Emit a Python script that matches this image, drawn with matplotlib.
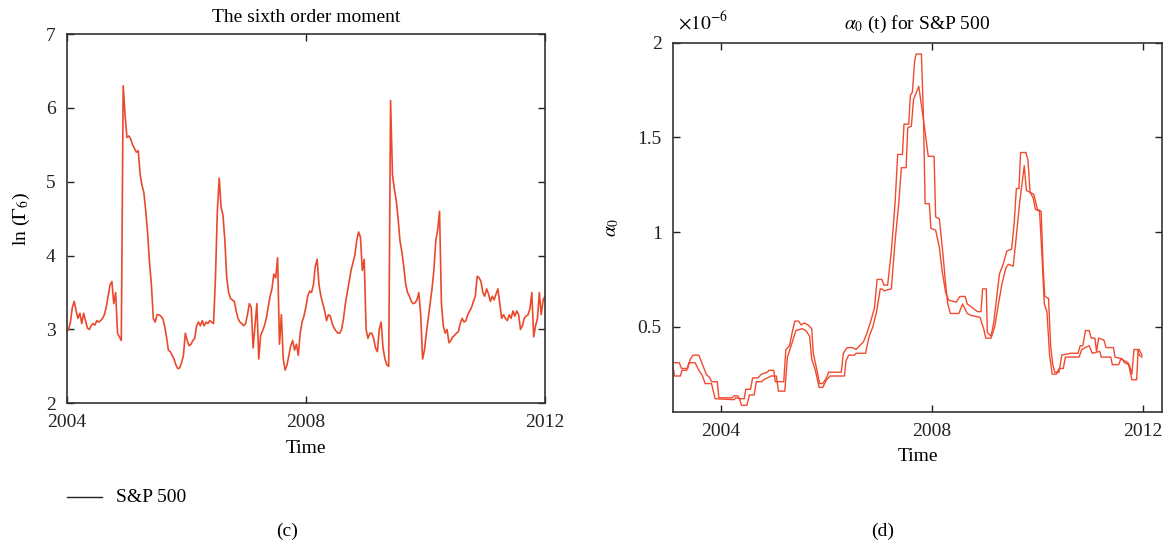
import numpy as np
import matplotlib
matplotlib.use('Agg')
import matplotlib.pyplot as plt

plt.rcParams['font.family'] = ['Liberation Serif', 'DejaVu Serif']
plt.rcParams['mathtext.fontset'] = 'stix'

# (c) ln(Gamma_6) for S&P 500, read at even steps from 2004 to 2012
ln_gamma6 = [
    2.97, 3.0, 3.1, 3.3, 3.38, 3.25, 3.15, 3.22, 3.08, 3.22,
    3.12, 3.02, 3.0, 3.05, 3.08, 3.06, 3.12, 3.1, 3.12, 3.15,
    3.2, 3.3, 3.45, 3.6, 3.65, 3.35, 3.5, 2.95, 2.9, 2.85,
    6.3, 5.9, 5.6, 5.62, 5.58, 5.5, 5.45, 5.4, 5.42, 5.1,
    4.95, 4.85, 4.6, 4.3, 3.9, 3.6, 3.15, 3.1, 3.2, 3.2,
    3.18, 3.15, 3.05, 2.9, 2.72, 2.7, 2.65, 2.6, 2.52, 2.47,
    2.48, 2.55, 2.65, 2.95, 2.85, 2.78, 2.8, 2.85, 2.88, 3.05,
    3.1, 3.05, 3.12, 3.05, 3.1, 3.08, 3.12, 3.1, 3.08, 3.7,
    4.6, 5.05, 4.65, 4.55, 4.2, 3.7, 3.5, 3.42, 3.4, 3.38,
    3.25, 3.15, 3.1, 3.08, 3.05, 3.08, 3.2, 3.35, 3.3, 2.75,
    3.05, 3.35, 2.6, 2.92, 2.98, 3.05, 3.15, 3.3, 3.45, 3.55,
    3.75, 3.7, 3.97, 2.8, 3.2, 2.6, 2.45, 2.52, 2.65, 2.78,
    2.85, 2.72, 2.8, 2.65, 2.95, 3.1, 3.18, 3.3, 3.45, 3.52,
    3.5, 3.6, 3.85, 3.95, 3.6, 3.45, 3.35, 3.25, 3.12, 3.2,
    3.18, 3.08, 3.02, 2.98, 2.95, 2.95, 3.0, 3.15, 3.35, 3.5,
    3.65, 3.8, 3.9, 4.0, 4.2, 4.32, 4.25, 3.8, 3.95, 3.0,
    2.88, 2.95, 2.95, 2.88, 2.75, 2.7, 3.0, 3.1, 2.75, 2.6,
    2.52, 2.5, 6.1, 5.1, 4.9, 4.75, 4.5, 4.2, 4.05, 3.85,
    3.62, 3.5, 3.45, 3.38, 3.35, 3.36, 3.4, 3.5, 3.2, 2.6,
    2.72, 2.95, 3.15, 3.35, 3.55, 3.8, 4.2, 4.35, 4.6, 3.35,
    3.05, 2.95, 3.0, 2.82, 2.85, 2.9, 2.92, 2.95, 2.97, 3.08,
    3.15, 3.1, 3.12, 3.2, 3.25, 3.3, 3.38, 3.45, 3.72, 3.7,
    3.65, 3.5, 3.45, 3.55, 3.48, 3.38, 3.45, 3.4, 3.48, 3.55,
    3.35, 3.15, 3.2, 3.15, 3.12, 3.2, 3.15, 3.25, 3.18, 3.25,
    3.2, 3.0, 3.05, 3.15, 3.18, 3.2, 3.28, 3.5, 2.9, 3.05,
    3.15, 3.5, 3.2, 3.4, 3.45,
]
time_c = np.linspace(2004, 2012, len(ln_gamma6))

# (d) alpha_0(t) in units of 1e-6, two curves
time_a = [
    2003.09, 2003.21, 2003.25, 2003.37, 2003.42, 2003.47, 2003.58, 2003.65, 2003.72, 2003.79,
    2003.82, 2003.93, 2003.96, 2004.21, 2004.25, 2004.32, 2004.35, 2004.44, 2004.47, 2004.56,
    2004.60, 2004.70, 2004.77, 2004.88, 2004.91, 2005.00, 2005.03, 2005.19, 2005.23, 2005.30,
    2005.35, 2005.40, 2005.47, 2005.52, 2005.58, 2005.65, 2005.72, 2005.75, 2005.82, 2005.87,
    2005.93, 2006.00, 2006.04, 2006.28, 2006.32, 2006.39, 2006.49, 2006.56, 2006.63, 2006.70,
    2006.76, 2006.84, 2006.91, 2006.96, 2007.05, 2007.09, 2007.16, 2007.23, 2007.30, 2007.35,
    2007.44, 2007.47, 2007.56, 2007.59, 2007.63, 2007.67, 2007.70, 2007.80, 2007.84, 2007.87,
    2007.95, 2007.98, 2008.07, 2008.14, 2008.19, 2008.26, 2008.32, 2008.46, 2008.53, 2008.63,
    2008.67, 2008.77, 2008.86, 2008.93, 2008.96, 2009.03, 2009.05, 2009.12, 2009.17, 2009.23,
    2009.28, 2009.35, 2009.42, 2009.51, 2009.56, 2009.60, 2009.65, 2009.68, 2009.78, 2009.82,
    2009.86, 2009.93, 2010.00, 2010.07, 2010.11, 2010.14, 2010.21, 2010.25, 2010.29, 2010.33,
    2010.41, 2010.46, 2010.63, 2010.77, 2010.81, 2010.86, 2010.91, 2010.98, 2011.02, 2011.09,
    2011.12, 2011.16, 2011.26, 2011.30, 2011.44, 2011.47, 2011.61, 2011.65, 2011.74, 2011.79,
    2011.83, 2011.90, 2011.93, 2011.98,
]
alpha_a = [
    0.31, 0.31, 0.28, 0.28, 0.33, 0.35, 0.35, 0.30, 0.25, 0.23,
    0.21, 0.21, 0.125, 0.125, 0.135, 0.135, 0.12, 0.12, 0.17, 0.17,
    0.23, 0.23, 0.25, 0.26, 0.27, 0.27, 0.21, 0.21, 0.38, 0.40,
    0.47, 0.53, 0.53, 0.51, 0.52, 0.51, 0.49, 0.36, 0.27, 0.20,
    0.20, 0.23, 0.26, 0.26, 0.36, 0.39, 0.39, 0.38, 0.40, 0.42,
    0.46, 0.53, 0.60, 0.75, 0.75, 0.72, 0.72, 0.90, 1.15, 1.41,
    1.41, 1.57, 1.57, 1.72, 1.74, 1.90, 1.94, 1.94, 1.60, 1.15,
    1.15, 1.02, 1.01, 0.92, 0.80, 0.68, 0.64, 0.63, 0.66, 0.66,
    0.62, 0.60, 0.58, 0.58, 0.70, 0.70, 0.47, 0.45, 0.52, 0.66,
    0.78, 0.83, 0.90, 0.91, 1.05, 1.23, 1.23, 1.42, 1.42, 1.38,
    1.21, 1.20, 1.12, 1.11, 0.80, 0.66, 0.65, 0.40, 0.30, 0.26,
    0.26, 0.35, 0.36, 0.36, 0.40, 0.40, 0.48, 0.48, 0.44, 0.44,
    0.37, 0.44, 0.43, 0.39, 0.39, 0.34, 0.33, 0.31, 0.30, 0.25,
    0.38, 0.38, 0.35, 0.34,
]
time_b = [
    2003.09, 2003.12, 2003.23, 2003.26, 2003.35, 2003.39, 2003.51, 2003.58, 2003.65, 2003.70,
    2003.82, 2003.89, 2004.25, 2004.28, 2004.35, 2004.39, 2004.49, 2004.54, 2004.63, 2004.67,
    2004.77, 2004.81, 2004.95, 2005.05, 2005.09, 2005.21, 2005.26, 2005.33, 2005.42, 2005.54,
    2005.61, 2005.68, 2005.72, 2005.79, 2005.86, 2005.93, 2006.00, 2006.07, 2006.34, 2006.37,
    2006.42, 2006.53, 2006.56, 2006.74, 2006.81, 2006.88, 2006.95, 2007.02, 2007.05, 2007.09,
    2007.23, 2007.30, 2007.37, 2007.42, 2007.51, 2007.54, 2007.61, 2007.65, 2007.75, 2007.81,
    2007.86, 2007.93, 2008.04, 2008.07, 2008.14, 2008.21, 2008.25, 2008.30, 2008.35, 2008.51,
    2008.58, 2008.67, 2008.74, 2008.91, 2008.98, 2009.02, 2009.12, 2009.19, 2009.26, 2009.33,
    2009.40, 2009.45, 2009.54, 2009.59, 2009.66, 2009.75, 2009.79, 2009.86, 2009.92, 2009.96,
    2010.04, 2010.09, 2010.13, 2010.18, 2010.23, 2010.28, 2010.36, 2010.41, 2010.49, 2010.53,
    2010.79, 2010.84, 2010.98, 2011.04, 2011.18, 2011.21, 2011.39, 2011.42, 2011.54, 2011.58,
    2011.72, 2011.79, 2011.88, 2011.91, 2011.93, 2011.98,
]
alpha_b = [
    0.29, 0.24, 0.24, 0.27, 0.27, 0.31, 0.31, 0.27, 0.24, 0.20,
    0.20, 0.12, 0.115, 0.125, 0.12, 0.085, 0.085, 0.14, 0.14, 0.21,
    0.21, 0.22, 0.24, 0.24, 0.16, 0.16, 0.34, 0.40, 0.48, 0.49,
    0.48, 0.45, 0.33, 0.27, 0.18, 0.18, 0.22, 0.24, 0.24, 0.32,
    0.35, 0.35, 0.36, 0.36, 0.45, 0.50, 0.58, 0.70, 0.70, 0.69,
    0.70, 0.95, 1.15, 1.34, 1.34, 1.55, 1.56, 1.70, 1.77, 1.65,
    1.55, 1.40, 1.40, 1.08, 1.07, 0.88, 0.75, 0.62, 0.57, 0.57,
    0.62, 0.57, 0.56, 0.55, 0.49, 0.44, 0.44, 0.50, 0.62, 0.73,
    0.81, 0.83, 0.82, 0.95, 1.15, 1.35, 1.22, 1.21, 1.18, 1.12,
    1.11, 0.85, 0.62, 0.58, 0.35, 0.25, 0.25, 0.28, 0.28, 0.34,
    0.34, 0.38, 0.40, 0.36, 0.37, 0.34, 0.34, 0.30, 0.30, 0.33,
    0.31, 0.22, 0.22, 0.38, 0.38, 0.35,
]

year_ticks = [2004, 2008, 2012]
line_color = '#ea4a2c'
spine_color = '#333333'

fig = plt.figure(figsize=(11.7, 5.48), dpi=100)

# ---- panel (c)
ax1 = fig.add_axes([0.0570, 0.2640, 0.4088, 0.6739])
ax1.plot(time_c, ln_gamma6, color=line_color, lw=1.2)
ax1.set_xlim(2004, 2012)
ax1.set_ylim(2, 7)
ax1.set_xticks(year_ticks)
ax1.set_yticks([2, 3, 4, 5, 6, 7])
ax1.set_title('The sixth order moment', fontsize=14, pad=9)
ax1.set_xlabel('Time', fontsize=14, labelpad=6)
ax1.set_ylabel(r'ln ($\Gamma_6$)', fontsize=14, labelpad=10)

# ---- panel (d)
ax2 = fig.add_axes([0.5752, 0.2482, 0.4179, 0.6739])
ax2.plot(time_a, alpha_a, color='#f04a30', lw=1.0)
ax2.plot(time_b, alpha_b, color='#f04a30', lw=1.0)
ax2.set_xlim(2003.09, 2012.36)
ax2.set_ylim(0.05, 2)
ax2.set_xticks(year_ticks)
ax2.set_yticks([0.5, 1, 1.5, 2])
ax2.set_yticklabels(['0.5', '1', '1.5', '2'])
ax2.set_title(r'$\alpha_0$ (t) for S&P 500', fontsize=14, pad=10)
ax2.set_xlabel('Time', fontsize=14, labelpad=6)
ax2.set_ylabel(r'$\alpha_0$', fontsize=14, labelpad=12)
ax2.text(0.01, 1.025, r'$\times10^{-6}$', transform=ax2.transAxes, fontsize=14, ha='left', va='bottom')

for ax in (ax1, ax2):
    ax.tick_params(direction='in', top=True, right=True, length=5, width=1,
                   labelsize=14, colors='#222222')
    ax.tick_params(axis='x', pad=8)
    ax.tick_params(axis='y', pad=8)
    for s in ax.spines.values():
        s.set_color(spine_color)
        s.set_linewidth(1.2)

# legend for panel (c), drawn below the axes
fig.add_artist(plt.Line2D([0.057, 0.087], [0.093, 0.093], color='#222222', lw=1.0))
fig.text(0.099, 0.093, 'S&P 500', fontsize=14, va='center', ha='left')

fig.text(0.245, 0.030, '(c)', fontsize=14, ha='center', va='center')
fig.text(0.754, 0.030, '(d)', fontsize=14, ha='center', va='center')

fig.savefig('out.png', dpi=100)
